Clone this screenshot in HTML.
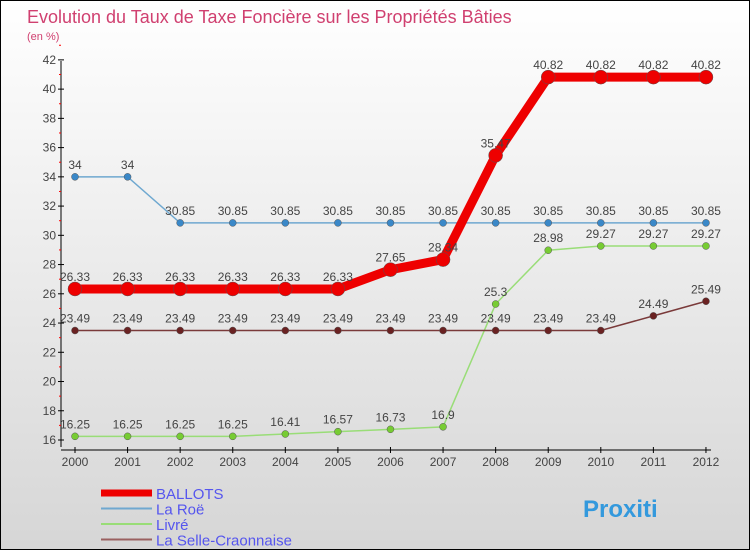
<!DOCTYPE html>
<html><head><meta charset="utf-8"><style>
body{margin:0}
#c{width:748px;height:548px;border:1px solid #000;background:linear-gradient(#fff,#d6d6d6);position:relative;font-family:"Liberation Sans",sans-serif}
</style></head><body>
<div id="c">
<svg id="s" width="748" height="548"></svg>
</div>
<script>
const years=[2000,2001,2002,2003,2004,2005,2006,2007,2008,2009,2010,2011,2012];
const ballots=[26.33,26.33,26.33,26.33,26.33,26.33,27.65,28.34,35.47,40.82,40.82,40.82,40.82];
const laroe=[34,34,30.85,30.85,30.85,30.85,30.85,30.85,30.85,30.85,30.85,30.85,30.85];
const livre=[16.25,16.25,16.25,16.25,16.41,16.57,16.73,16.9,25.3,28.98,29.27,29.27,29.27];
const selle=[23.49,23.49,23.49,23.49,23.49,23.49,23.49,23.49,23.49,23.49,23.49,24.49,25.49];
const yTicks=[16,18,20,22,24,26,28,30,32,34,36,38,40,42];
const NS="http://www.w3.org/2000/svg",s=document.getElementById('s');
const X=i=>74+i*52.58, Y=v=>439-(v-16)*14.62;
function el(t,a,p){const e=document.createElementNS(NS,t);for(const k in a)e.setAttribute(k,a[k]);(p||s).appendChild(e);return e;}
function tx(x,y,str,a){const e=el('text',Object.assign({x:x,y:y,'font-size':12,fill:'#444'},a));e.textContent=str;return e;}
let t=tx(26,22,'Evolution du Taux de Taxe Foncière sur les Propriétés Bâties',{'font-size':18,fill:'#d04070'});

t=tx(26,39,'(en %)',{'font-size':11,fill:'#d04070'});

let ax=el('path',{d:'M60,60V446M60,449H710',stroke:'#000',fill:'none'});

yTicks.forEach(v=>{el('line',{x1:57,x2:63,y1:Y(v),y2:Y(v),stroke:'#000'});el('line',{x1:58,x2:60,y1:Y(v+1),y2:Y(v+1),stroke:'red'});
 const l=tx(55,Y(v)+4,String(v),{'text-anchor':'end'});});
years.forEach((y,i)=>{el('line',{x1:X(i),x2:X(i),y1:446,y2:452,stroke:'#000'});
 const l=tx(X(i),465,String(y),{'text-anchor':'middle'});});
function series(vals,col,w,r,name,fill){
 const g=el('g',{});
 el('polyline',{points:vals.map((v,i)=>X(i)+','+Y(v)).join(' '),fill:'none',stroke:col,'stroke-width':w},g);
 vals.forEach((v,i)=>{const c=el('circle',{cx:X(i),cy:Y(v),r:r,fill:fill,stroke:'#555','stroke-width':0.5},g);
  
  tx(X(i),Y(v)-8,String(v),{'text-anchor':'middle'},g);});
}
series(laroe,'#6fa8d0',1.5,3.5,'la-roe','#3a88c8');
series(livre,'#99dd77',1.5,3.5,'livre','#77cc33');
series(selle,'#7a3a3a',1.5,3.5,'la-selle','#6a2222');
series(ballots,'#ee0000',9,7,'ballots','#ee0000');
const leg=[['BALLOTS','#ee0000',7],['La Roë','#6fa8d0',2],['Livré','#99dd77',2],['La Selle-Craonnaise','#9a6060',2]];
leg.forEach((l,i)=>{const g=el('g',{});
 const y=492+i*15.5;el('line',{x1:100,x2:151,y1:y,y2:y,stroke:l[1],'stroke-width':l[2]},g);
 tx(155,y+6,l[0],{'font-size':15,fill:'#5555ee'},g);});
t=tx(582,516,'Proxiti',{'font-size':24,fill:'#3399dd','font-weight':'bold'});

</script>
</body></html>
